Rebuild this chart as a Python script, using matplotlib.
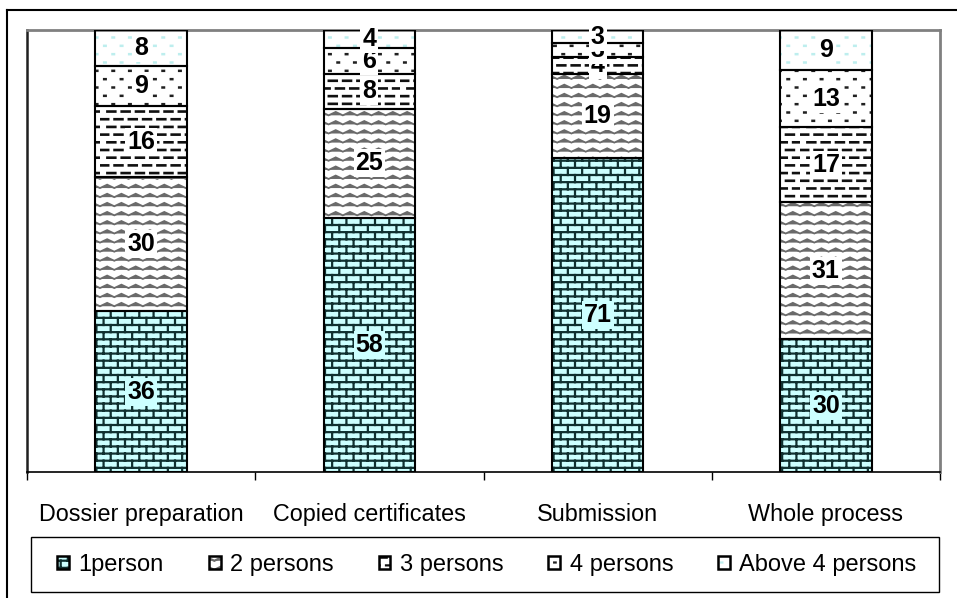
import warnings
import numpy as np
import matplotlib
matplotlib.use('Agg')
import matplotlib.pyplot as plt
from matplotlib import hatch as mhatch
from matplotlib.path import Path
from matplotlib.patches import Patch, Rectangle
from matplotlib.lines import Line2D
from matplotlib.legend_handler import HandlerTuple

# custom hatch letters are not in matplotlib's list, silence the warning
warnings.filterwarnings('ignore', message='.*hatch.*')

plt.rcParams['font.family'] = ['Liberation Sans', 'DejaVu Sans']
plt.rcParams['hatch.linewidth'] = 1.6

# data (% of respondents by number of persons involved)
categories = ['Dossier preparation', 'Copied certificates', 'Submission', 'Whole process']
series = ['1person', '2 persons', '3 persons', '4 persons', 'Above 4 persons']
one_person = [36, 58, 71, 30]
two_persons = [30, 25, 19, 31]
three_persons = [16, 8, 4, 17]
four_persons = [9, 6, 3, 13]
above_four = [8, 4, 3, 9]


# --- extra hatch patterns: bricks, zigzag, staggered dashes, dots ---
class _SegmentHatch(mhatch.HatchPatternBase):
    key = ''

    def __init__(self, hatch, density):
        k = hatch.count(self.key)
        self.paths = self.build() if k else []
        self.num_vertices = sum(len(p) for p in self.paths)

    def build(self):
        return []

    def set_vertices_and_codes(self, vertices, codes):
        i = 0
        for p in self.paths:
            n = len(p)
            vertices[i:i + n] = p
            codes[i] = Path.MOVETO
            codes[i + 1:i + n] = Path.LINETO
            i += n


class BrickHatch(_SegmentHatch):
    key = 'b'
    rows, cols = 14, 7

    def build(self):
        h = 1.0 / self.rows
        out = []
        for r in range(self.rows):
            y0 = (r + 0.5) * h
            out.append([(0, y0), (1, y0)])
            shift = 0.75 if r % 2 else 0.25
            for c in range(self.cols):
                x = (c + shift) / self.cols
                y1 = y0 + h
                if y1 > 1:
                    out.append([(x, y0), (x, 1.0)])
                    out.append([(x, 0.0), (x, y1 - 1)])
                else:
                    out.append([(x, y0), (x, y1)])
        return out


class ZigzagHatch(_SegmentHatch):
    key = 'z'
    rows, periods, amp = 11, 7, 0.017

    def build(self):
        out = []
        xs = np.linspace(0, 1, 2 * self.periods + 1)
        for r in range(self.rows):
            y0 = (r + 0.5) / self.rows
            ys = y0 + self.amp * np.where(np.arange(len(xs)) % 2, 1, -1)
            out.append(list(zip(xs, ys)))
        return out


class DashHatch(_SegmentHatch):
    key = 'd'
    rows, cols, frac = 13, 7, 0.55

    def build(self):
        out = []
        for r in range(self.rows):
            y0 = (r + 0.5) / self.rows
            shift = 0.5 if r % 2 else 0.0
            for c in range(self.cols):
                x0 = (c + shift + 0.02) / self.cols
                x1 = min(x0 + self.frac / self.cols, 1.0)
                out.append([(x0, y0), (x1, y0)])
        return out


class DotHatch(_SegmentHatch):
    key = 'p'
    rows, cols = 12, 6

    def build(self):
        out = []
        for r in range(self.rows):
            y0 = (r + 0.5) / self.rows
            shift = 0.75 if r % 2 else 0.25
            for c in range(self.cols):
                x0 = (c + shift) / self.cols
                out.append([(x0, y0), (x0 + 0.015, y0)])
        return out


mhatch._hatch_types.extend([BrickHatch, ZigzagHatch, DashHatch, DotHatch])

values = [one_person, two_persons, three_persons, four_persons, above_four]
faces = ['#ccffff', 'white', 'white', 'white', 'white']
hatch_colors = ['#103030', '#6a6a6a', '#101010', '#202020', '#bdeeee']
hatch_widths = [1.6, 1.3, 1.9, 1.8, 1.8]
hatches = ['b', 'z', 'd', 'p', 'p']

data = np.array(values, dtype=float)
pct = data / data.sum(axis=0) * 100  # 100% stacked columns

fig = plt.figure(figsize=(9.57, 5.98), dpi=100)
ax = fig.add_axes([27 / 957, 126 / 598, 913 / 957, 442 / 598])

x = np.arange(len(categories))
width = 0.4
bottom = np.zeros(len(categories))
handles = []
for i, name in enumerate(series):
    with plt.rc_context({'hatch.linewidth': hatch_widths[i]}):
        ax.bar(x, pct[i], width, bottom=bottom, color=faces[i],
               edgecolor=hatch_colors[i], linewidth=0, hatch=hatches[i], zorder=2)
        hpatch = Patch(facecolor=faces[i], edgecolor=hatch_colors[i],
                       linewidth=0, hatch=hatches[i])
    ax.bar(x, pct[i], width, bottom=bottom, fill=False,
           edgecolor='black', linewidth=1.5, zorder=3)
    for xi, b, p, v in zip(x, bottom, pct[i], values[i]):
        ax.text(xi, b + p / 2, str(v), ha='center', va='center',
                fontsize=18, fontweight='bold', zorder=4,
                bbox=dict(boxstyle='square,pad=0.08', fc=faces[i], ec='none'))
    bottom += pct[i]
    handles.append((hpatch, Patch(fill=False, edgecolor='black', linewidth=1.8)))

ax.set_xlim(-0.5, len(categories) - 0.5)
ax.set_ylim(0, 100)
ax.set_xticks(x)
ax.set_xticklabels(categories, fontsize=16.8)
ax.set_xticks(np.arange(len(categories) + 1) - 0.5, minor=True)
ax.tick_params(axis='x', which='major', length=0, pad=22)
ax.tick_params(axis='x', which='minor', length=6, width=1, direction='out')
ax.set_yticks([])

ax.spines['left'].set_color('#202020')
ax.spines['left'].set_linewidth(1.8)
ax.spines['bottom'].set_color('black')
ax.spines['bottom'].set_linewidth(1.2)
for s in ['top', 'right']:
    ax.spines[s].set_color('#808080')
    ax.spines[s].set_linewidth(2)

fig.legend(handles, series, loc='center',
           bbox_to_anchor=(487 / 957, 1 - 565 / 598), ncol=5,
           frameon=False, fontsize=17, handlelength=0.5, handleheight=0.5,
           handletextpad=0.4, columnspacing=1.9,
           handler_map={tuple: HandlerTuple(ndivide=1)})

# legend frame and outer chart border
fig.patches.append(Rectangle((31 / 957, 6 / 598), 908 / 957, 55 / 598,
                             transform=fig.transFigure, fill=False,
                             edgecolor='black', linewidth=1))
fig.lines.append(Line2D([7 / 957, 7 / 957], [0, 1 - 10 / 598],
                        transform=fig.transFigure, color='black', linewidth=1.5))
fig.lines.append(Line2D([7 / 957, 1], [1 - 10 / 598, 1 - 10 / 598],
                        transform=fig.transFigure, color='black', linewidth=1.5))

fig.savefig('out.png', dpi=100)
